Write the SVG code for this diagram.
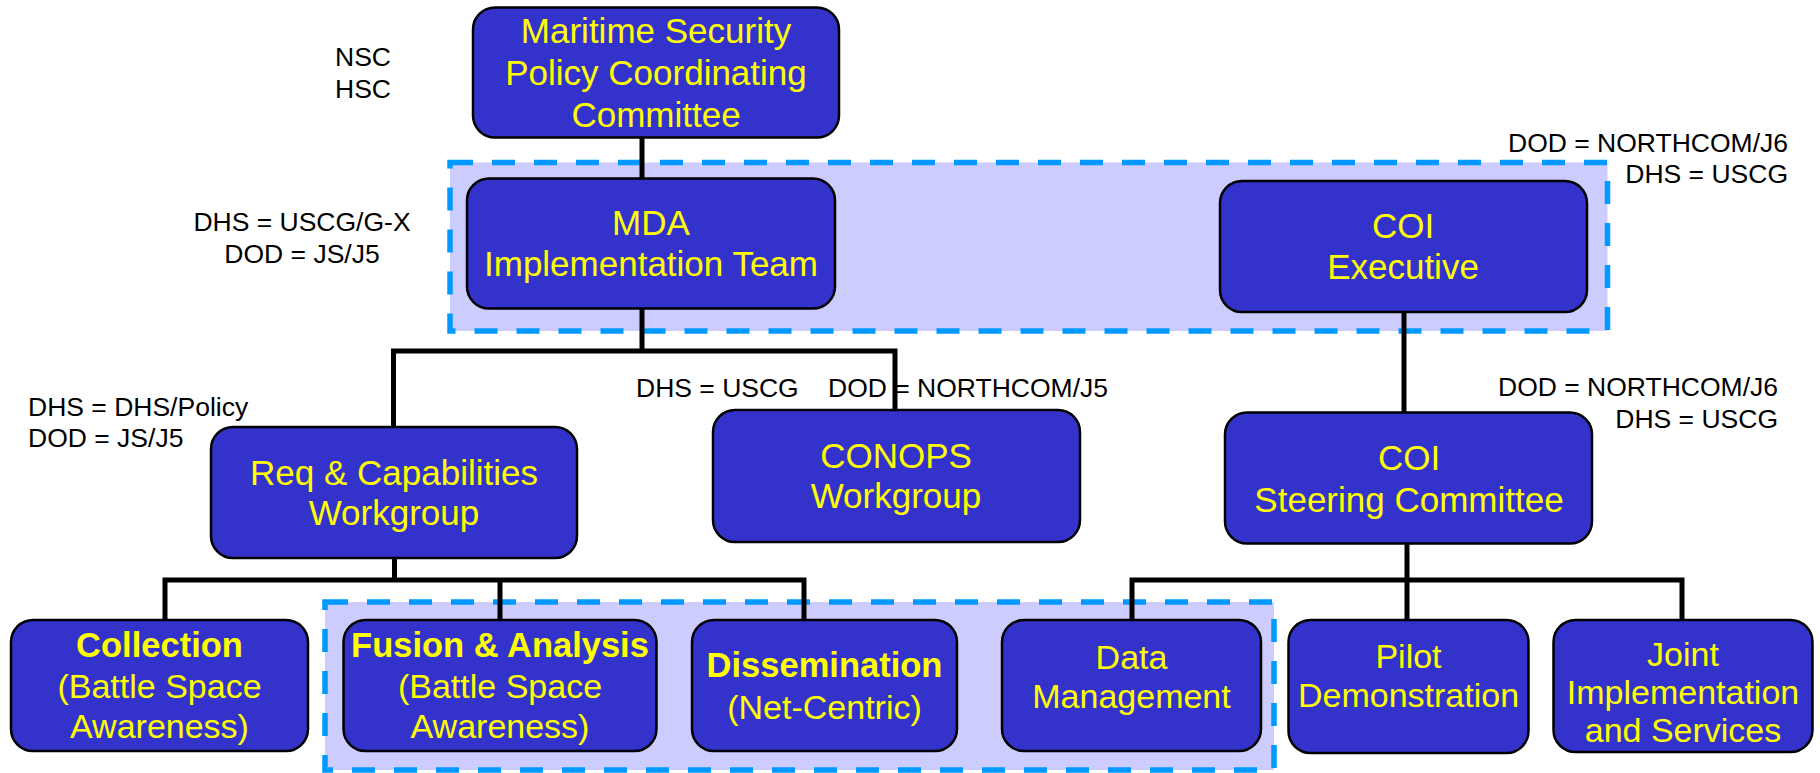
<svg xmlns="http://www.w3.org/2000/svg" width="1820" height="773" viewBox="0 0 1820 773">
<style>
.grp{fill:#CCCCFF;stroke:#0099FF;stroke-width:5.5;stroke-dasharray:23 19}
.box{fill:#3333CC;stroke:#000;stroke-width:2.5}
.nt{font-family:"Liberation Sans",Arial,sans-serif;font-size:34px;fill:#FFFF00;text-anchor:middle}
.t{font-size:35px}
.b{font-weight:bold;font-size:34.5px}
.lbl{font-family:"Liberation Sans",Arial,sans-serif;font-size:26.5px;fill:#000}
.conn{fill:none;stroke:#000;stroke-width:5;stroke-linejoin:miter;stroke-linecap:butt}
</style>
<rect width="1820" height="773" fill="#fff"/>
<g id="groups">
<rect class="grp" x="450" y="162.5" width="1157.5" height="168.5"/>
<rect class="grp" x="325" y="602" width="949" height="168"/>
</g>
<g id="labels">
<text class="lbl" x="335" y="66">NSC</text>
<text class="lbl" x="335" y="97.5">HSC</text>
<text class="lbl" x="302" y="231" text-anchor="middle">DHS = USCG/G-X</text>
<text class="lbl" x="302" y="263" text-anchor="middle">DOD = JS/J5</text>
<text class="lbl" x="1788" y="152" text-anchor="end">DOD = NORTHCOM/J6</text>
<text class="lbl" x="1788" y="183" text-anchor="end">DHS = USCG</text>
<text class="lbl" x="28" y="416">DHS = DHS/Policy</text>
<text class="lbl" x="28" y="447">DOD = JS/J5</text>
<text class="lbl" x="636" y="397">DHS = USCG</text>
<text class="lbl" x="828" y="397">DOD = NORTHCOM/J5</text>
<text class="lbl" x="1778" y="396" text-anchor="end">DOD = NORTHCOM/J6</text>
<text class="lbl" x="1778" y="428" text-anchor="end">DHS = USCG</text>
</g>
<g id="connectors">
<path class="conn" d="M642 137 V179"/>
<path class="conn" d="M642 308 V351"/>
<path class="conn" d="M393.5 428 V351 H895 V411"/>
<path class="conn" d="M1404 311 V413"/>
<path class="conn" d="M394.5 557 V580"/>
<path class="conn" d="M165 621 V580 H804 V621"/>
<path class="conn" d="M500 580 V621"/>
<path class="conn" d="M1407 543 V580"/>
<path class="conn" d="M1132 621 V580 H1682 V621"/>
<path class="conn" d="M1407 580 V621"/>
</g>
<g id="maritime">
<rect class="box" x="473" y="7.5" width="366" height="130" rx="22"/>
<text class="nt t" x="656" y="43">Maritime Security</text>
<text class="nt t" x="656" y="85">Policy Coordinating</text>
<text class="nt t" x="656" y="127">Committee</text>
</g>
<g id="mda">
<rect class="box" x="467" y="178.5" width="368" height="130" rx="22"/>
<text class="nt t" x="651" y="235">MDA</text>
<text class="nt t" x="651" y="276">Implementation Team</text>
</g>
<g id="coi-exec">
<rect class="box" x="1220" y="181" width="367" height="131" rx="22"/>
<text class="nt t" x="1403" y="238">COI</text>
<text class="nt t" x="1403" y="279">Executive</text>
</g>
<g id="req">
<rect class="box" x="211" y="427" width="366" height="131" rx="22"/>
<text class="nt t" x="394" y="485">Req &amp; Capabilities</text>
<text class="nt t" x="394" y="525">Workgroup</text>
</g>
<g id="conops">
<rect class="box" x="713" y="410" width="367" height="132" rx="22"/>
<text class="nt t" x="896" y="468">CONOPS</text>
<text class="nt t" x="896" y="508">Workgroup</text>
</g>
<g id="coi-steering">
<rect class="box" x="1225" y="412.5" width="367" height="131" rx="22"/>
<text class="nt t" x="1409" y="470">COI</text>
<text class="nt t" x="1409" y="511.5">Steering Committee</text>
</g>
<g id="collection">
<rect class="box" x="11" y="620" width="297" height="131" rx="22"/>
<text class="nt b" x="159.5" y="657">Collection</text>
<text class="nt" x="159.5" y="698">(Battle Space</text>
<text class="nt" x="159.5" y="738">Awareness)</text>
</g>
<g id="fusion">
<rect class="box" x="343.5" y="620" width="313" height="131" rx="22"/>
<text class="nt b" x="500" y="657">Fusion &amp; Analysis</text>
<text class="nt" x="500" y="698">(Battle Space</text>
<text class="nt" x="500" y="738">Awareness)</text>
</g>
<g id="dissemination">
<rect class="box" x="692" y="620" width="265" height="131" rx="22"/>
<text class="nt b" x="824.5" y="677">Dissemination</text>
<text class="nt" x="824.5" y="719">(Net-Centric)</text>
</g>
<g id="data-management">
<rect class="box" x="1002" y="620" width="259" height="131" rx="22"/>
<text class="nt" x="1131.5" y="669">Data</text>
<text class="nt" x="1131.5" y="708">Management</text>
</g>
<g id="pilot">
<rect class="box" x="1288.5" y="620" width="240" height="133" rx="22"/>
<text class="nt" x="1408.5" y="668">Pilot</text>
<text class="nt" x="1408.5" y="707">Demonstration</text>
</g>
<g id="joint">
<rect class="box" x="1553.5" y="620" width="259" height="132" rx="22"/>
<text class="nt" x="1683" y="666">Joint</text>
<text class="nt" x="1683" y="704">Implementation</text>
<text class="nt" x="1683" y="742">and Services</text>
</g>
</svg>
